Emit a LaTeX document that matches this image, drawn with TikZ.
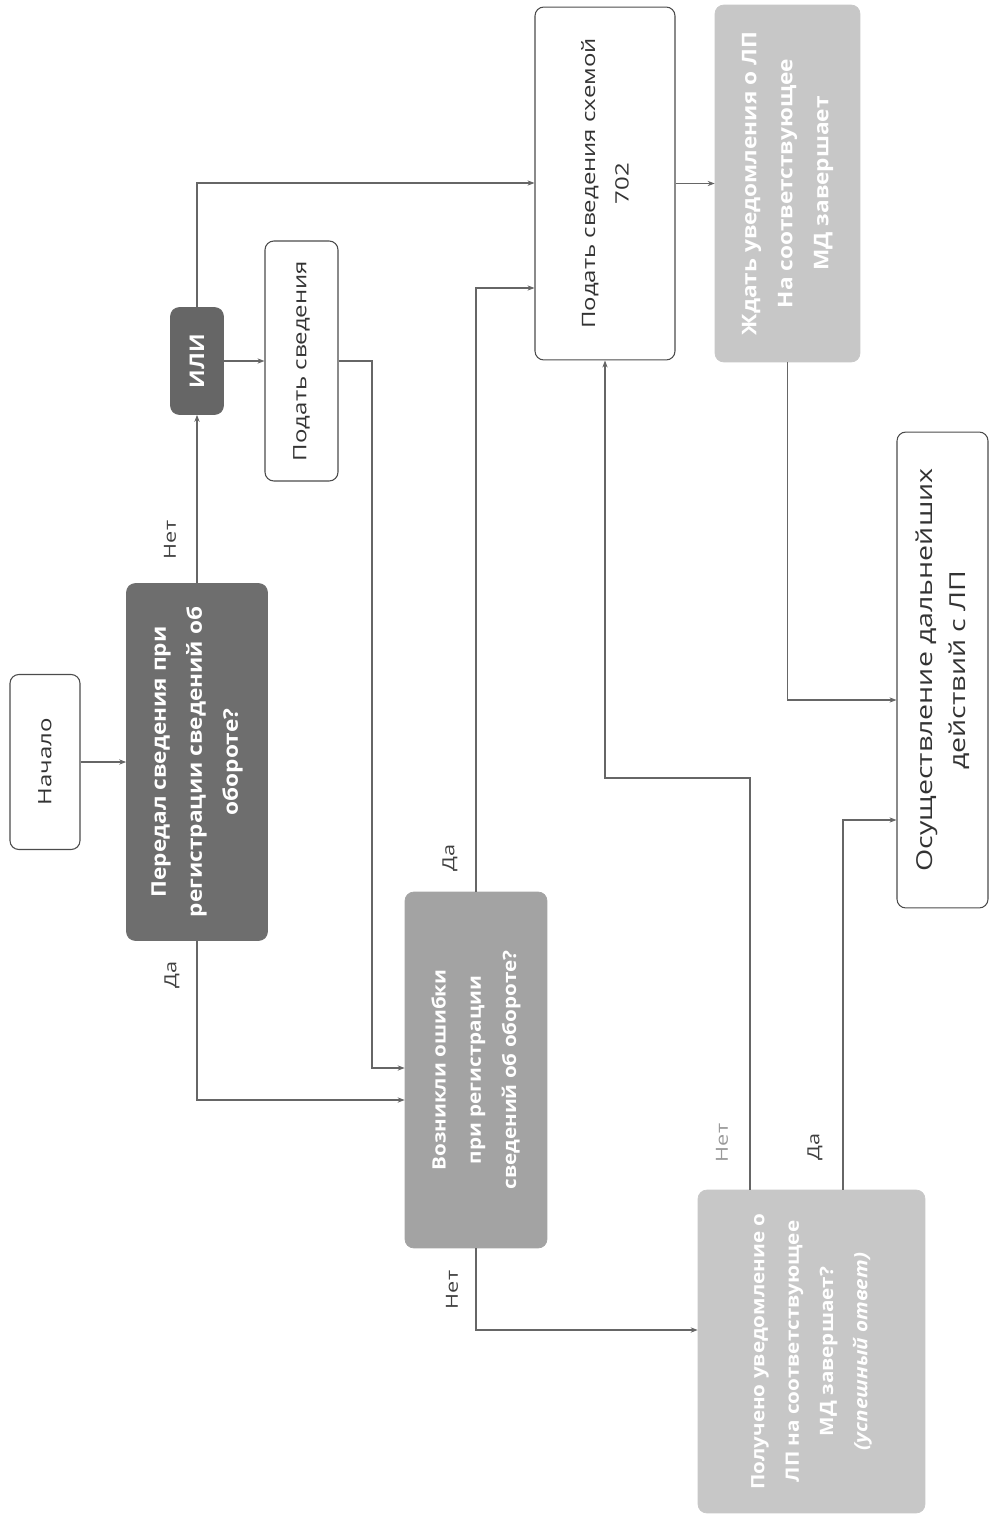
\documentclass[tikz,border=0pt]{standalone}
\usepackage{fontspec}
\setmainfont{Open Sans}[FakeStretch=1.3]
\newfontfamily\bld{Open Sans}[FakeStretch=1.12]
\usetikzlibrary{arrows.meta}
\begin{document}
\begin{tikzpicture}[x=0.02cm,y=0.02cm,
  box/.style={rotate=90, draw=black!70, line width=0.6pt, rounded corners=5pt, fill=white, align=center, inner sep=0pt, text=black!80, font=\fontsize{10.5}{19}\selectfont},
  dark/.style={rotate=90, draw=#1, rounded corners=5pt, fill=#1, align=center, inner sep=0pt, text=white, font=\bld\bfseries\fontsize{11.5}{20.5}\selectfont},
  arr/.style={draw=black!60, line width=0.6pt, -{Stealth[length=4pt,width=3pt]}},
  lbl/.style={rotate=90, font=\fontsize{9.5}{11}\selectfont, text=black!75}
]
\useasboundingbox (0,0) rectangle (992,-1524);

% nodes
\node[box, minimum width=3.5cm, minimum height=1.4cm] (start) at (45,-762) {Начало};
\node[dark=black!57, minimum width=7.14cm, minimum height=2.82cm] (d1) at (197,-762) {Передал сведения при\\регистрации сведений об\\обороте?};
\node[dark=black!60, minimum width=2.14cm, minimum height=1.06cm] (ili) at (197,-361) {ИЛИ};
\node[box, minimum width=4.8cm, minimum height=1.46cm] (podat) at (301.5,-361) {Подать сведения};
\node[box, minimum width=7.06cm, minimum height=2.8cm] (s702) at (605,-183.5) {Подать сведения схемой\\702};
\node[dark=black!22, minimum width=7.14cm, minimum height=2.9cm] (tr) at (787.5,-183.5) {Ждать уведомления о ЛП\\На соответствующее\\МД завершает};
\node[dark=black!36, minimum width=7.12cm, minimum height=2.84cm, font=\bld\bfseries\fontsize{10.5}{20}\selectfont] (d2) at (476,-1070) {Возникли ошибки\\при регистрации\\сведений об обороте?};
\node[box, minimum width=9.52cm, minimum height=1.82cm, font=\fontsize{12.5}{18.5}\selectfont] (fin) at (942.5,-670) {Осуществление дальнейших\\действий с ЛП};
\node[dark=black!22, minimum width=6.46cm, minimum height=4.54cm, font=\bld\bfseries\fontsize{10.5}{19.5}\selectfont] (bl) at (811.5,-1351.5) {Получено уведомление о\\ЛП на соответствующее\\МД завершает?\\\textit{(успешный ответ)}};

% helper coordinates
\coordinate (yili) at (0,-183);
\coordinate (yd2) at (0,-288);
\coordinate (xpod) at (372,0);
\coordinate (ypod) at (0,-1068);
\coordinate (yd1) at (0,-1100);
\coordinate (ytr) at (0,-700);
\coordinate (xno) at (750,0);
\coordinate (yno) at (0,-778);
\coordinate (xyes) at (843,0);
\coordinate (yyes) at (0,-820);
\coordinate (yd2no) at (0,-1330);

% connectors
\draw[arr] (start) -- (d1);
\draw[arr] (d1) -- (ili);
\draw[arr] (ili) -- (podat);
\draw[arr] (ili.east) |- (yili -| s702.north);
\draw[arr] (d2.east) |- (yd2 -| s702.north);
\draw[arr] (podat.south) -| (xpod |- ypod) -- (ypod -| d2.north);
\draw[arr] (d1.west) |- (yd1 -| d2.north);
\draw[arr] (s702) -- (tr);
\draw[arr] (tr.west) |- (ytr -| fin.north);
\draw[arr] (xno |- bl.east) |- (s702.west |- yno) -- (s702.west);
\draw[arr] (xyes |- bl.east) |- (yyes -| fin.north);
\draw[arr] (d2.west) |- (yd2no -| bl.north);

% labels
\node[lbl] (l1) at (170,-540) {Нет};
\node[lbl] (l2) at (172,-975) {Да};
\node[lbl] (l3) at (450,-858) {Да};
\node[lbl] (l4) at (452,-1290) {Нет};
\node[lbl, text=black!40] (l5) at (722,-1143) {Нет};
\node[lbl] (l6) at (815,-1147) {Да};
\end{tikzpicture}
\end{document}
